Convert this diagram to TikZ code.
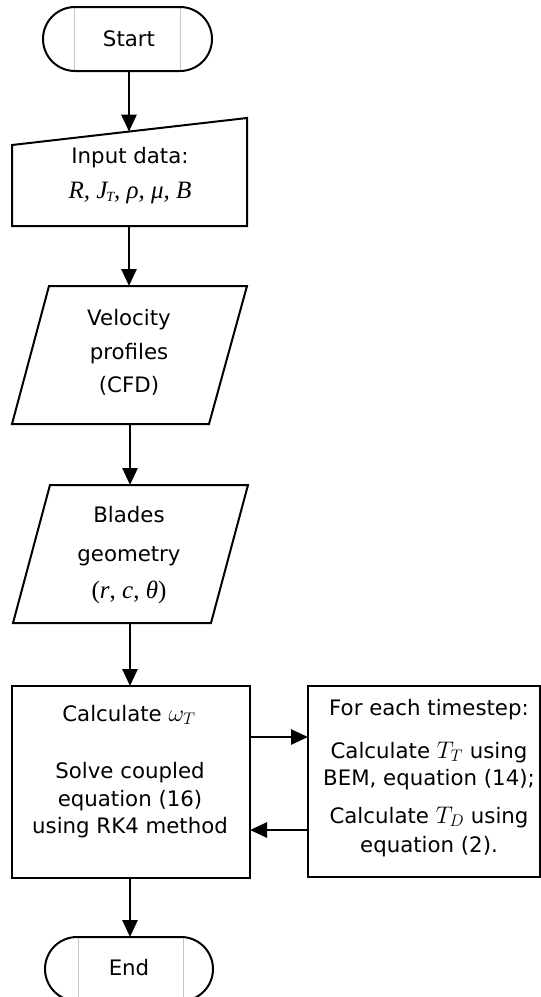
\RequirePackage{fix-cm}
\documentclass[tikz,border=0pt]{standalone}
\usepackage{fontspec}
\setmainfont{DejaVu Sans}
\newfontfamily\tms{Liberation Serif}
\usetikzlibrary{arrows.meta}
\newcommand{\lgmath}[1]{{\fontsize{24}{26}\selectfont$#1$}}
\begin{document}
\begin{tikzpicture}[x=1pt,y=-1pt,
  box/.style={draw=black, line width=2pt, line join=miter},
  arr/.style={line width=2.8pt, -{Triangle[length=17pt,width=15pt]}},
  txt/.style={anchor=base, inner sep=0pt, font=\fontsize{21.3}{24}\selectfont},
  mth/.style={anchor=base, inner sep=0pt, font=\fontsize{25}{27}\selectfont\tms},
  guide/.style={draw=black!22, line width=0.6pt}]
\useasboundingbox (0,0) rectangle (541,997);
\begin{scope}
\clip (0,0) rectangle (541,997);
% shapes
\draw[guide] (74,8) -- (74,70) (180,8) -- (180,70);
\draw[box, rounded corners=32pt] (43,7) rectangle (212,71);
\draw[box] (12,145) -- (247,118) -- (247,226) -- (12,226) -- cycle;
\draw[box] (49,286) -- (247,286) -- (209,424) -- (12,424) -- cycle;
\draw[box] (50,485) -- (248,485) -- (211,623) -- (13,623) -- cycle;
\draw[box] (12,686) rectangle (250,878);
\draw[box] (308,686) rectangle (540,877);
\draw[guide] (78,938) -- (78,997) (183,938) -- (183,997);
\draw[box, rounded corners=32pt] (45,937) rectangle (213,1001);
% connection points
\coordinate (startB) at (129,71);
\coordinate (inTop) at (129,131.6);
\coordinate (inBot) at (129,226);
\coordinate (velTop) at (129,286);
\coordinate (velBot) at (130,424);
\coordinate (blTop) at (130,485);
\coordinate (blBot) at (130,623);
\coordinate (calcTop) at (130,686);
\coordinate (calcBot) at (130,878);
\coordinate (endTop) at (130,937);
\coordinate (calcR1) at (250,737);
\coordinate (stepL1) at (308,737);
\coordinate (stepL2) at (308,830);
\coordinate (calcR2) at (250,830);
% connectors
\draw[arr] (startB) -- (inTop);
\draw[arr] (inBot) -- (velTop);
\draw[arr] (velBot) -- (blTop);
\draw[arr] (blBot) -- (calcTop);
\draw[arr] (calcBot) -- (endTop);
\draw[arr] (calcR1) -- (stepL1);
\draw[arr] (stepL2) -- (calcR2);
% texts
\node[txt] (tStart) at (129,46) {Start};
\node[txt] (tIn1) at (130,163) {Input data:};
\node[mth] (tIn2) at (130,198) {\itshape R, J\kern-1pt\raisebox{-3pt}{\fontsize{14}{15}\selectfont T}, ρ, μ, B};
\node[txt] (tVel1) at (129,325) {Velocity};
\node[txt] (tVel2) at (129,359) {profiles};
\node[txt] (tVel3) at (129,392) {(CFD)};
\node[txt] (tBl1) at (129,522) {Blades};
\node[txt] (tBl2) at (129,561) {geometry};
\node[mth] (tBl3) at (129,598) {(\textit{r}, \textit{c}, \textit{θ})};
\node[txt] (tC1) at (129,721) {Calculate \lgmath{\omega_T}};
\node[txt] (tC2) at (130,778) {Solve coupled};
\node[txt] (tC3) at (130,806) {equation (16)};
\node[txt] (tC4) at (130,833) {using RK4 method};
\node[txt] (tS1) at (429,715) {For each timestep:};
\node[txt] (tS2) at (429,758) {Calculate \lgmath{T_T} using};
\node[txt] (tS3) at (429,785) {BEM, equation (14);};
\node[txt] (tS4) at (429,823) {Calculate \lgmath{T_D} using};
\node[txt] (tS5) at (429,852) {equation (2).};
\node[txt] (tEnd) at (129,975) {End};
\end{scope}
\end{tikzpicture}
\end{document}
